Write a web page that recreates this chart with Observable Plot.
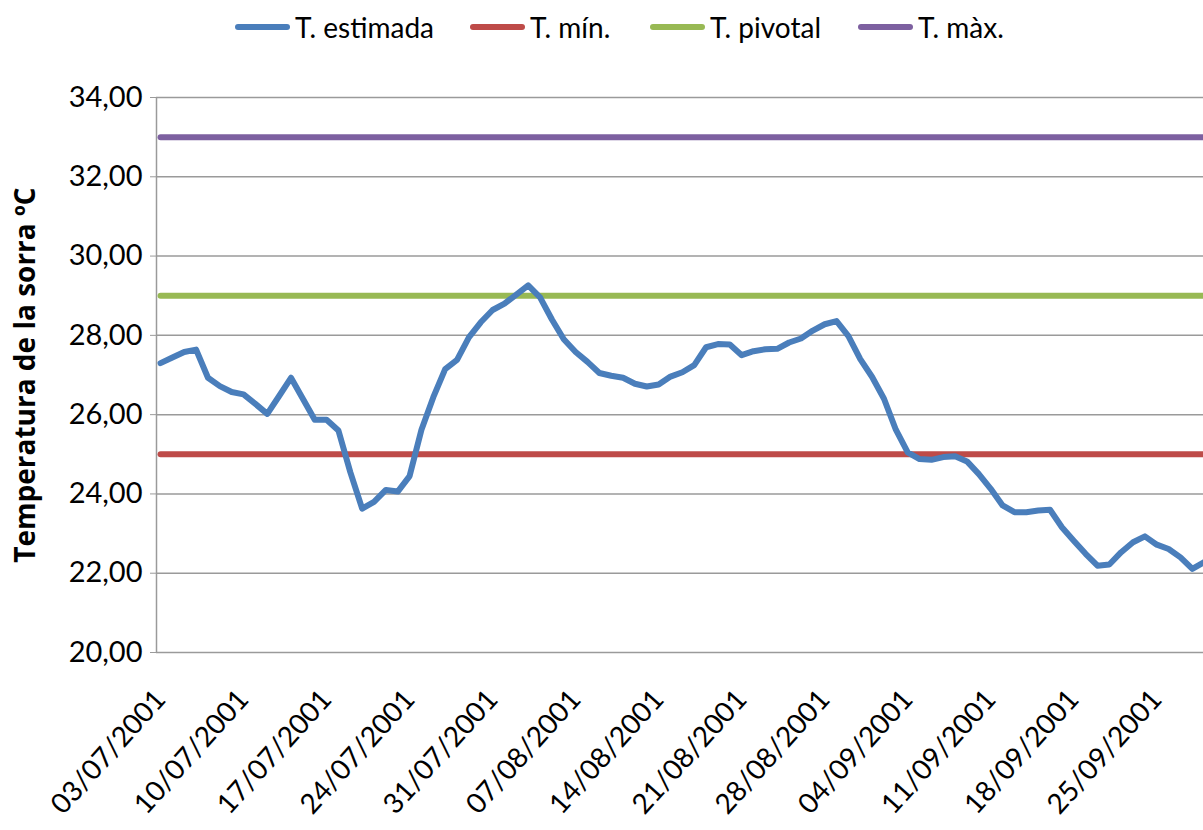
<!DOCTYPE html>
<html>
<head>
<meta charset="utf-8">
<script src="https://cdn.jsdelivr.net/npm/d3@7"></script>
<script src="https://cdn.jsdelivr.net/npm/@observablehq/plot@0.6"></script>
<style>
  html, body { margin: 0; padding: 0; background: #fff; }
  #wrap { position: relative; width: 1203px; height: 830px; overflow: hidden; font-family: Lato, "Open Sans", sans-serif; }
  #legend { position: relative; height: 55px; }
  .item { position: absolute; top: 10px; display: flex; align-items: center; font-size: 28px; color: #000; }
  .sw { width: 55px; height: 6px; border-radius: 3px; margin-right: 5px; }
  #ytitle { position: absolute; left: 24px; top: 375px; transform: translate(-50%, -50%) rotate(-90deg); white-space: nowrap; font-weight: bold; font-size: 28px; font-family: "Open Sans", Lato, sans-serif; }
</style>
</head>
<body>
<div id="wrap">
  <div id="legend"></div>
  <div id="chart"></div>
  <div id="ytitle">Temperatura de la sorra ºC</div>
</div>
<script>
// ---- data ----
const startDate = "2001-07-03";
const estimada = [
  27.30, 27.44, 27.58, 27.64, 26.93, 26.72, 26.57, 26.51, 26.27, 26.02,
  26.47, 26.93, 26.40, 25.87, 25.87, 25.60, 24.55, 23.63, 23.80, 24.10,
  24.06, 24.45, 25.62, 26.44, 27.15, 27.38, 27.95, 28.33, 28.64, 28.80,
  29.03, 29.26, 28.96, 28.40, 27.90, 27.58, 27.33, 27.05, 26.98, 26.93,
  26.78, 26.71, 26.76, 26.96, 27.07, 27.25, 27.70, 27.78, 27.77, 27.50,
  27.60, 27.65, 27.66, 27.82, 27.92, 28.12, 28.28, 28.36, 27.98, 27.40,
  26.95, 26.40, 25.62, 25.05, 24.88, 24.86, 24.93, 24.95, 24.82, 24.50,
  24.13, 23.71, 23.54, 23.54, 23.58, 23.60, 23.16, 22.82, 22.49, 22.19,
  22.22, 22.53, 22.78, 22.93, 22.72, 22.61, 22.40, 22.11, 22.28
];
const seriesNames = ["T. estimada", "T. mín.", "T. pivotal", "T. màx."];
const seriesColors = ["#4A7EBB", "#BE4B48", "#98B954", "#7D60A0"];
const thresholds = [25, 29, 33]; // T. mín., T. pivotal, T. màx.
const yTicks = [20, 22, 24, 26, 28, 30, 32, 34];
const xTickDates = ["2001-07-03","2001-07-10","2001-07-17","2001-07-24","2001-07-31","2001-08-07","2001-08-14","2001-08-21","2001-08-28","2001-09-04","2001-09-11","2001-09-18","2001-09-25"];

// ---- build ----
const t0 = new Date(startDate + "T00:00:00Z");
const day = 86400000;
const rows = estimada.map((v, i) => ({date: new Date(t0.getTime() + i * day), value: v}));
const lastDate = rows[rows.length - 1].date;
const thrRows = thresholds.flatMap((t, k) => [
  {date: t0, value: t, s: seriesNames[k + 1]},
  {date: lastDate, value: t, s: seriesNames[k + 1]}
]);
const xDomain = [new Date(t0.getTime() - 0.34 * day), new Date(t0.getTime() + 87.94 * day)];
const fmtY = d => d.toFixed(2).replace(".", ",");
const fmtX = d3.utcFormat("%d/%m/%Y");

// legend
const legendX = [235, 470, 650, 858];
const legend = document.getElementById("legend");
seriesNames.forEach((n, i) => {
  const it = document.createElement("div");
  it.className = "item";
  it.style.left = legendX[i] + "px";
  it.innerHTML = `<div class="sw" style="background:${seriesColors[i]}"></div><span>${n}</span>`;
  legend.appendChild(it);
});

const chart = Plot.plot({
  width: 1203,
  height: 775,
  marginLeft: 156,
  marginRight: 0,
  marginTop: 42,
  marginBottom: 178,
  style: {fontFamily: "Lato, 'Open Sans', sans-serif", fontSize: "28px", color: "#000", background: "#fff"},
  x: {type: "utc", domain: xDomain},
  y: {domain: [20, 34]},
  color: {domain: seriesNames, range: seriesColors},
  marks: [
    Plot.ruleY(yTicks, {stroke: "#9a9a9a", strokeWidth: 1.5}),
    Plot.ruleX([xDomain[0]], {stroke: "#9a9a9a", strokeWidth: 1.5}),
    Plot.axisY({ticks: yTicks, tickFormat: fmtY, tickSize: 6, tickPadding: 8, stroke: "#9a9a9a", label: null, fontSize: 29}),
    Plot.axisX({ticks: xTickDates.map(s => new Date(s + "T00:00:00Z")), tickFormat: fmtX, tickSize: 0, tickRotate: -48, tickPadding: 42, label: null, fontSize: 28}),
    Plot.line(thrRows, {x: "date", y: "value", z: "s", stroke: "s", strokeWidth: 6, strokeLinecap: "round", clip: true}),
    Plot.line(rows, {x: "date", y: "value", stroke: seriesColors[0], strokeWidth: 6, strokeLinecap: "round", strokeLinejoin: "round", clip: true})
  ]
});
document.getElementById("chart").appendChild(chart);
</script>
</body>
</html>
